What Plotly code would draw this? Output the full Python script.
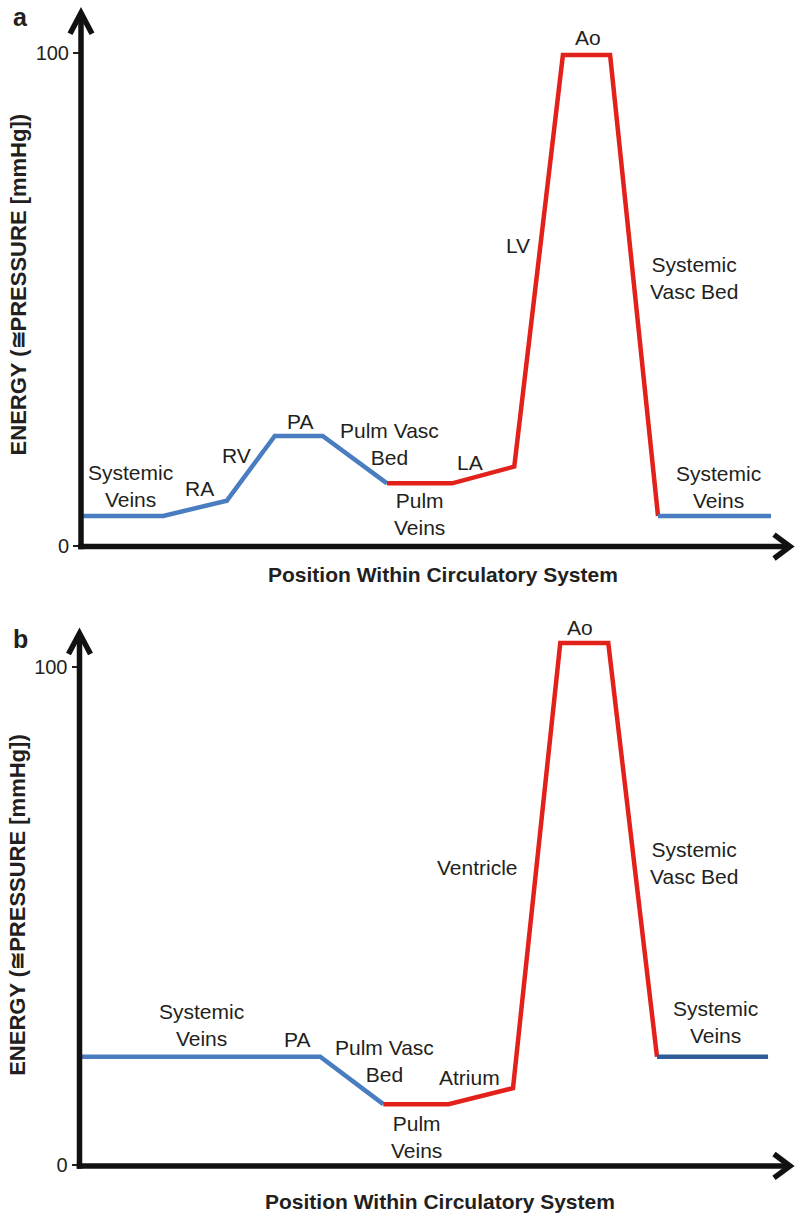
import plotly.graph_objects as go

W, H = 796, 1226
FONT = "Liberation Sans, Arial, Helvetica, sans-serif"
INK = "#231f20"
BLUE = "#4a7cc0"
DARK_BLUE = "#2f5b98"
RED = "#e3211b"

# ---------------- data: panel a (normal circulation) ----------------
a_pos_right = [0.3, 11.5, 20.4, 27.1, 33.8, 42.8]
a_p_right = [6.1, 6.1, 9.2, 22.3, 22.3, 12.7]
a_pos_left = [42.8, 51.9, 60.6, 67.4, 74.0, 80.7]
a_p_left = [12.7, 12.7, 16.1, 99.5, 99.5, 6.1]
a_pos_return = [80.7, 96.5]
a_p_return = [6.1, 6.1]

a_labels = ["Systemic<br>Veins", "RA", "RV", "PA", "Pulm Vasc<br>Bed", "LA",
            "Pulm<br>Veins", "LV", "Ao", "Systemic<br>Vasc Bed", "Systemic<br>Veins"]
a_label_pos = [6.9, 16.6, 21.7, 30.6, 43.1, 54.4, 47.4, 61.1, 70.9, 85.7, 89.2]
a_label_p = [12.1, 11.6, 18.3, 25.3, 20.6, 16.9, 6.5, 60.8, 103.0, 54.3, 12.0]

# ---------------- data: panel b (single ventricle) ----------------
b_pos_right = [0.1, 33.6, 42.4]
b_p_right = [21.8, 21.8, 12.3]
b_pos_left = [42.4, 51.5, 60.5, 67.1, 73.8, 80.6]
b_p_left = [12.3, 12.3, 15.5, 104.8, 104.8, 21.8]
b_pos_return = [80.6, 96.1]
b_p_return = [21.8, 21.8]

b_labels = ["Systemic<br>Veins", "PA", "Pulm Vasc<br>Bed", "Atrium", "Pulm<br>Veins",
            "Ventricle", "Ao", "Systemic<br>Vasc Bed", "Systemic<br>Veins"]
b_label_pos = [17.0, 30.4, 42.6, 54.5, 47.1, 55.5, 69.9, 85.8, 88.7]
b_label_p = [28.1, 25.2, 21.0, 17.7, 5.8, 59.8, 108.0, 60.7, 28.7]

y_ticks = [0, 100]
y_tick_text = ["0", "100"]
x_title = "Position Within Circulatory System"
y_title = "ENERGY (\u2245PRESSURE [mmHg])"

# panel geometry in pixels: origin, pixel height of 100 units, top of axis, arrow tip
panels = {
    "a": dict(x0=81.0, y0=551.0, y100=53.0, top=4.0, tip=13.0),
    "b": dict(x0=79.5, y0=1176.0, y100=673.0, top=628.0, tip=639.0),
}

fig = go.Figure()

LW = 4.5


def add_line(xs, ys, color, xa, ya):
    fig.add_trace(go.Scatter(x=xs, y=ys, mode="lines", xaxis=xa, yaxis=ya,
                             line=dict(color=color, width=LW),
                             hoverinfo="skip", showlegend=False))


add_line(a_pos_right, a_p_right, BLUE, "x", "y")
add_line(a_pos_left, a_p_left, RED, "x", "y")
add_line(a_pos_return, a_p_return, BLUE, "x", "y")

add_line(b_pos_right, b_p_right, BLUE, "x2", "y2")
add_line(b_pos_left, b_p_left, RED, "x2", "y2")
add_line(b_pos_return, b_p_return, DARK_BLUE, "x2", "y2")


def axis_pair(p):
    g = panels[p]
    scale = (g["y0"] - g["y100"]) / 100.0
    ytop = (g["y0"] - g["top"]) / scale
    xd = [g["x0"] / W, 1.0]
    yd = [1 - g["y0"] / H, 1 - g["top"] / H]
    xa = dict(domain=xd, range=[0, 100], visible=False, fixedrange=True)
    ya = dict(domain=yd, range=[0, ytop], showgrid=False, zeroline=False,
              showline=False, ticks="outside", ticklen=7, tickwidth=2,
              tickcolor=INK, tickvals=y_ticks, ticktext=y_tick_text,
              tickfont=dict(family=FONT, size=20, color=INK), fixedrange=True)
    return xa, ya


xa1, ya1 = axis_pair("a")
xa2, ya2 = axis_pair("b")
ya1["anchor"] = "x"
xa1["anchor"] = "y"
xa2["anchor"] = "y2"
ya2["anchor"] = "x2"

# pixel overlay used for the arrowed axes and titles
xa3 = dict(domain=[0, 1], range=[0, W], visible=False, fixedrange=True, anchor="y3")
ya3 = dict(domain=[0, 1], range=[H, 0], visible=False, fixedrange=True, anchor="x3")

shapes = []
AX_W = 5.5
for p, g in panels.items():
    x0, y0, top, tip = g["x0"], g["y0"], g["top"], g["tip"]
    yl = y0 + 0.5
    shapes.append(dict(type="line", xref="x3", yref="y3", x0=x0, x1=x0,
                       y0=yl + AX_W / 2, y1=tip + 2, line=dict(color="#111", width=AX_W)))
    shapes.append(dict(type="line", xref="x3", yref="y3", x0=x0 - AX_W / 2, x1=W - 8,
                       y0=yl, y1=yl, line=dict(color="#111", width=AX_W)))
    shapes.append(dict(type="path", xref="x3", yref="y3",
                       path=f"M {x0-11},{tip+21} L {x0},{tip} L {x0+11},{tip+21}",
                       line=dict(color="#111", width=AX_W)))
    shapes.append(dict(type="path", xref="x3", yref="y3",
                       path=f"M {W-22},{yl-12} L {W-6},{yl} L {W-22},{yl+12}",
                       line=dict(color="#111", width=AX_W)))

annotations = []


def add_labels(texts, xs, ys, xref, yref):
    for t, x, y in zip(texts, xs, ys):
        annotations.append(dict(text=t, x=x, y=y, xref=xref, yref=yref,
                                showarrow=False, xanchor="center", yanchor="middle",
                                font=dict(family=FONT, size=21, color=INK)))


add_labels(a_labels, a_label_pos, a_label_p, "x", "y")
add_labels(b_labels, b_label_pos, b_label_p, "x2", "y2")

for letter, (lx, ly), (tx, ty), (yx, yy) in [
    ("a", (20, 17), (443, 580), (18, 287)),
    ("b", (20, 645), (440, 1212), (18, 913)),
]:
    annotations.append(dict(text=f"<b>{letter}</b>", x=lx, y=ly, xref="x3", yref="y3",
                            showarrow=False, xanchor="center", yanchor="middle",
                            font=dict(family=FONT, size=25, color=INK)))
    annotations.append(dict(text=f"<b>{x_title}</b>", x=tx, y=ty, xref="x3", yref="y3",
                            showarrow=False, xanchor="center", yanchor="middle",
                            font=dict(family=FONT, size=21, color=INK)))
    annotations.append(dict(text=f"<b>{y_title}</b>", x=yx, y=yy, xref="x3", yref="y3",
                            showarrow=False, xanchor="center", yanchor="middle",
                            textangle=-90,
                            font=dict(family=FONT, size=22, color=INK)))

fig.update_layout(
    width=W, height=H,
    margin=dict(l=0, r=0, t=0, b=0),
    paper_bgcolor="white", plot_bgcolor="rgba(0,0,0,0)",
    xaxis=xa1, yaxis=ya1, xaxis2=xa2, yaxis2=ya2, xaxis3=xa3, yaxis3=ya3,
    shapes=shapes, annotations=annotations, showlegend=False,
)

fig.write_html("out.html")
